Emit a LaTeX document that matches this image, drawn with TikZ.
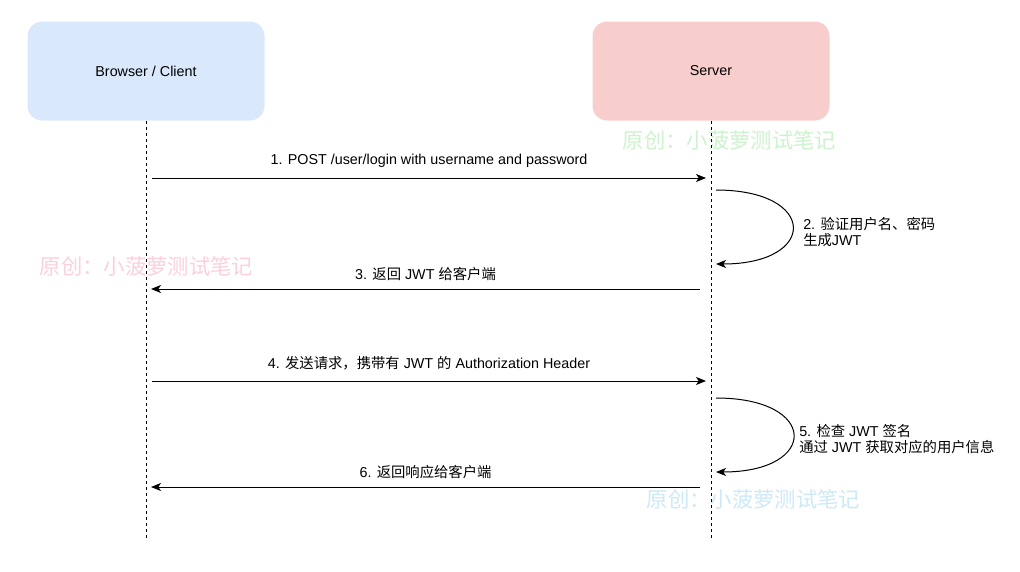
\documentclass[tikz,border=0pt]{standalone}
\usepackage{fontspec}
\setmainfont{Liberation Sans}
\newfontfamily\cjk{Noto Sans CJK SC}
\usepackage{xcolor}
\usetikzlibrary{arrows.meta, positioning, calc}

\definecolor{clientblue}{HTML}{DAE8FC}
\definecolor{serverpink}{HTML}{F8CECC}
\definecolor{wmgreen}{HTML}{CDF2CD}
\definecolor{wmpink}{HTML}{FBD0DC}
\definecolor{wmblue}{HTML}{CCE9F6}

\begin{document}
\begin{tikzpicture}[x=0.75pt, y=-0.75pt,
  actor/.style={rounded corners=11pt, minimum width=177.75pt, minimum height=74.25pt, font=\fontsize{10.75}{12}\selectfont},
  lifeline/.style={dash pattern=on 2.25pt off 2.25pt, line width=0.75pt},
  msg/.style={-{Stealth[length=7.5pt, width=6pt, inset=2pt]}, line width=0.75pt},
  lbl/.style={font=\fontsize{10.75}{12}\selectfont, inner sep=0pt},
  wmtext/.style={font=\cjk\fontsize{16}{18}\selectfont, inner sep=0pt}]
\useasboundingbox (0,0) rectangle (1020,571);

% watermarks
\node[wmtext, text=wmgreen] (wm1) at (729.5,140) {原创：小菠萝测试笔记};
\node[wmtext, text=wmpink] (wm2) at (146.5,266) {原创：小菠萝测试笔记};
\node[wmtext, text=wmblue] (wm3) at (753.5,499) {原创：小菠萝测试笔记};

% actors
\node[actor, fill=clientblue] (client) at (146,71) {Browser / Client};
\node[actor, fill=serverpink] (server) at (711,71) {Server};

\coordinate (clientEnd) at (146,538);
\coordinate (serverEnd) at (711,538);
\draw[lifeline] (client.south) -- (clientEnd);
\draw[lifeline] (server.south) -- (serverEnd);

% 1
\coordinate (c1) at (152,178);
\coordinate (s1) at (706,178);
\draw[msg] (c1) -- node[lbl, midway, yshift=13pt] (m1) {1. POST /user/login with username and password} (s1);

% 2
\coordinate (s2a) at (716,190);
\coordinate (s2b) at (716,264);
\draw[msg] (s2a) .. controls +(102,0) and +(102,0) .. (s2b);
\node[lbl, anchor=west, align=left] (m2) at (803,232) {2. {\cjk 验证用户名、密码}\\{\cjk 生成}JWT};

% 3
\coordinate (s3) at (700,289);
\coordinate (c3) at (151,289);
\draw[msg] (s3) -- node[lbl, midway, yshift=11.5pt] (m3) {3. {\cjk 返回} JWT {\cjk 给客户端}} (c3);

% 4
\coordinate (c4) at (152,381);
\coordinate (s4) at (706,381);
\draw[msg] (c4) -- node[lbl, midway, yshift=13pt] (m4) {4. {\cjk 发送请求，携带有} JWT {\cjk 的} Authorization Header} (s4);

% 5
\coordinate (s5a) at (716,398);
\coordinate (s5b) at (716,472);
\draw[msg] (s5a) .. controls +(103,0) and +(103,0) .. (s5b);
\node[lbl, anchor=west, align=left] (m5) at (799,439.5) {5. {\cjk 检查} JWT {\cjk 签名}\\{\cjk 通过} JWT {\cjk 获取对应的用户信息}};

% 6
\coordinate (s6) at (700,487);
\coordinate (c6) at (151,487);
\draw[msg] (s6) -- node[lbl, midway, yshift=11.5pt] (m6) {6. {\cjk 返回响应给客户端}} (c6);
\end{tikzpicture}
\end{document}
